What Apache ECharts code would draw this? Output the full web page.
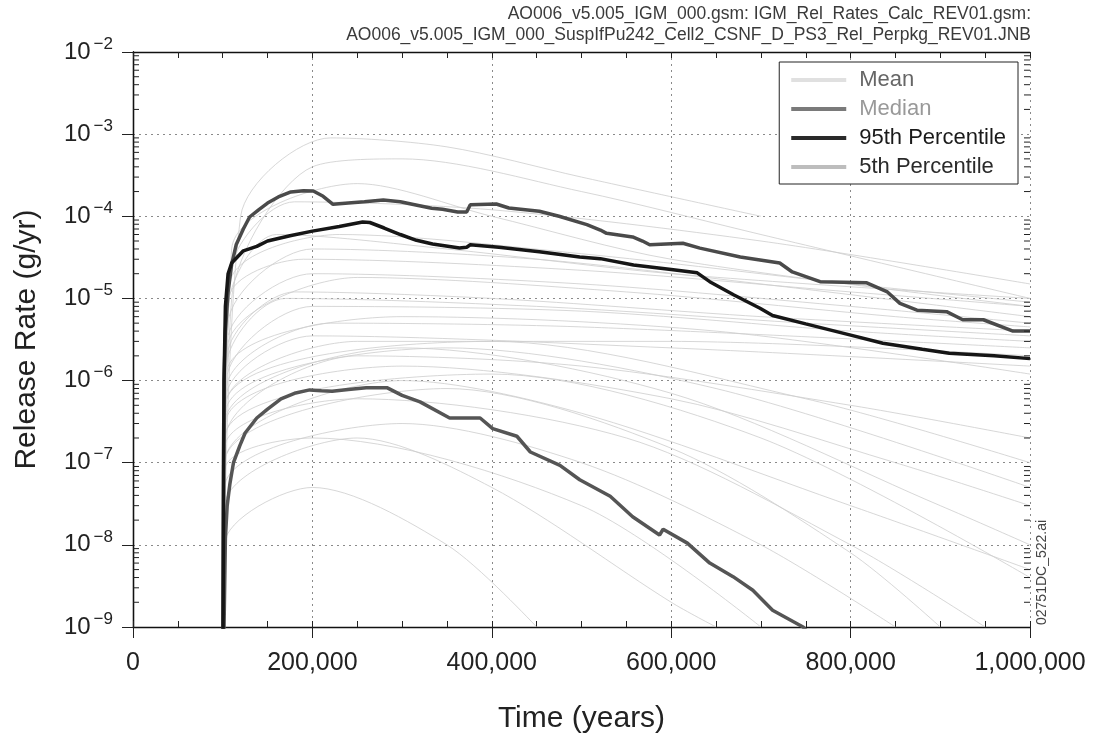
<!DOCTYPE html>
<html><head><meta charset="utf-8">
<script src="https://cdn.jsdelivr.net/npm/echarts@6/dist/echarts.min.js"></script>
<style>html,body{margin:0;padding:0;background:#fff}#c{width:1093px;height:733px}</style>
</head><body><div id="c"></div>
<script>
// ---- data (time in years, release rate in g/yr) ----
const meanRate = [[100000,1e-10],[100800,1e-7],[101500,1e-6],[103000,4e-6],[106000,1.2e-5],[110000,2.6e-5],[115000,4.5e-5],[123000,7e-5],[130000,9.8e-5],[140000,1.2e-4],[150000,1.45e-4],[162000,1.72e-4],[176000,1.98e-4],[190000,2.05e-4],[201000,2.03e-4],[212000,1.75e-4],[223000,1.4e-4],[240000,1.45e-4],[258000,1.5e-4],[279000,1.58e-4],[298000,1.5e-4],[314000,1.38e-4],[333000,1.25e-4],[345000,1.22e-4],[362000,1.13e-4],[372000,1.13e-4],[376000,1.38e-4],[405000,1.41e-4],[419000,1.26e-4],[453000,1.15e-4],[475000,1.0e-4],[506000,7.9e-5],[521000,6.8e-5],[528000,6.2e-5],[557000,5.6e-5],[568000,5.0e-5],[576000,4.5e-5],[613000,4.7e-5],[632000,4.1e-5],[677000,3.2e-5],[721000,2.7e-5],[735000,2.1e-5],[766000,1.6e-5],[818000,1.55e-5],[841000,1.2e-5],[855000,8.7e-6],[874000,7.2e-6],[907000,6.9e-6],[925000,5.5e-6],[948000,5.5e-6],[981000,4.0e-6],[1000000,4.0e-6]];
const p95Rate = [[100000,1e-10],[100800,1e-8],[101500,1e-6],[103000,8e-6],[106000,2e-5],[110000,2.7e-5],[114000,3e-5],[123000,3.8e-5],[138000,4.3e-5],[150000,5e-5],[175000,5.8e-5],[200000,6.6e-5],[230000,7.5e-5],[256000,8.5e-5],[264000,8.4e-5],[280000,7.2e-5],[298000,6e-5],[316000,5.1e-5],[334000,4.6e-5],[364000,4.1e-5],[372000,4.2e-5],[376000,4.5e-5],[408000,4.2e-5],[453000,3.7e-5],[498000,3.2e-5],[521000,3.05e-5],[558000,2.55e-5],[600000,2.25e-5],[629000,2.05e-5],[643000,1.6e-5],[670000,1.1e-5],[699000,7.6e-6],[713000,6.2e-6],[750000,4.9e-6],[799000,3.6e-6],[836000,2.85e-6],[880000,2.4e-6],[910000,2.15e-6],[960000,2.0e-6],[1000000,1.85e-6]];
const medianRate = [[100000,1e-10],[101500,1e-9],[103000,1.2e-8],[105000,3e-8],[108000,5.5e-8],[112000,1e-7],[119000,1.6e-7],[125000,2.3e-7],[138000,3.5e-7],[150000,4.5e-7],[165000,6e-7],[180000,7e-7],[197000,7.7e-7],[210000,7.5e-7],[222000,7.4e-7],[240000,7.8e-7],[260000,8.2e-7],[283000,8.2e-7],[300000,6.6e-7],[320000,5.5e-7],[353000,3.5e-7],[387000,3.5e-7],[401000,2.6e-7],[428000,2.1e-7],[443000,1.35e-7],[476000,9.3e-8],[498000,6.2e-8],[532000,3.9e-8],[557000,2.2e-8],[587000,1.32e-8],[591000,1.55e-8],[618000,1.05e-8],[643000,6e-9],[669000,4.1e-9],[691000,2.8e-9],[713000,1.6e-9],[747000,1e-9],[760000,7e-10]];
const p5Rate = []; // below 1e-9 for the whole period

// faint individual realizations (horsetail background)
const r01 = [[100000,1e-10],[110000,1e-5],[200000,4e-4],[300000,5e-4],[500000,2e-4],[700000,6e-5],[1000000,1e-5]];
const r02 = [[100000,1e-10],[108000,2e-5],[180000,1.5e-4],[400000,1.2e-4],[700000,5e-5],[1000000,1.5e-5]];
const r03 = [[100000,1e-10],[106000,5e-6],[200000,4e-5],[450000,3e-5],[700000,1.5e-5],[1000000,6e-6]];
const r04 = [[100000,1e-10],[105000,3e-6],[200000,2e-5],[500000,1.5e-5],[800000,8e-6],[1000000,5e-6]];
const r05 = [[100000,1e-10],[104000,1e-6],[200000,8e-6],[500000,7e-6],[800000,4e-6],[1000000,3e-6]];
const r06 = [[100000,1e-10],[104000,8e-7],[220000,5e-6],[500000,4.5e-6],[1000000,2.5e-6]];
const r07 = [[100000,1e-10],[103000,5e-7],[250000,3e-6],[600000,3e-6],[1000000,2e-6]];
const r08 = [[100000,1e-10],[105000,2e-6],[180000,1.2e-5],[400000,1e-5],[700000,6e-6],[1000000,4e-6]];
const r09 = [[100000,1e-10],[103000,2e-7],[250000,2e-6],[500000,1.5e-6],[800000,5e-7],[1000000,2e-7]];
const r10 = [[100000,1e-10],[102000,1e-7],[300000,1e-6],[500000,4e-7],[800000,3e-8],[1000000,5e-9]];
const r11 = [[100000,1e-10],[102000,5e-8],[300000,3e-7],[500000,1e-7],[700000,1e-8],[850000,1e-9]];
const r12 = [[100000,1e-10],[102000,3e-8],[250000,2e-7],[400000,5e-8],[600000,2e-9],[650000,1e-9]];
const r13 = [[100000,1e-10],[101500,1e-8],[200000,5e-8],[350000,1e-8],[450000,1e-9]];
const r14 = [[100000,1e-10],[103000,4e-7],[350000,2.5e-6],[650000,8e-7],[1000000,5e-8]];
const r15 = [[100000,1e-10],[102000,2e-7],[400000,1.2e-6],[700000,2e-7],[1000000,4e-9]];
const r16 = [[100000,1e-10],[110000,4e-5],[250000,2.5e-4],[400000,1e-4],[600000,3e-5],[1000000,8e-6]];
const r17 = [[100000,1e-10],[106000,8e-6],[160000,6e-5],[350000,4e-5],[600000,2e-5],[1000000,1e-5]];
const r18 = [[100000,1e-10],[120000,1e-4],[220000,9e-4],[350000,7e-4],[500000,3e-4],[700000,1e-4]];
const r19 = [[100000,1e-10],[102000,3e-7],[300000,2.5e-6],[600000,7e-7],[900000,3e-8],[1000000,1e-8]];
const r20 = [[100000,1e-10],[102000,1e-7],[350000,8e-7],[600000,1.5e-7],[800000,8e-9],[900000,1e-9]];
const r21 = [[100000,1e-10],[104000,1.5e-6],[170000,1e-5],[450000,8e-6],[750000,5e-6],[1000000,3.5e-6]];
const r22 = [[100000,1e-10],[105000,2.5e-6],[250000,1.8e-5],[550000,1.2e-5],[850000,6e-6],[1000000,4.5e-6]];
const r23 = [[100000,1e-10],[103000,6e-7],[200000,3.5e-6],[600000,2.5e-6],[1000000,1.5e-6]];
const r24 = [[100000,1e-10],[107000,1e-5],[190000,3e-5],[500000,2.2e-5],[800000,1.2e-5],[1000000,8e-6]];
const r25 = [[100000,1e-10],[103000,3e-7],[300000,1.5e-6],[600000,6e-7],[850000,1e-7],[1000000,3e-8]];
const r26 = [[100000,1e-10],[102000,1.5e-7],[250000,6e-7],[550000,2e-7],[800000,1e-8],[950000,1e-9]];
const r27 = [[100000,1e-10],[104000,1.2e-6],[300000,6e-6],[650000,4e-6],[1000000,1.2e-6]];
const r28 = [[100000,1e-10],[102000,8e-8],[200000,2e-7],[500000,3e-8],[700000,1e-9]];
const r29 = [[100000,1e-10],[108000,1.5e-5],[230000,6e-5],[500000,3.5e-5],[800000,1.5e-5],[1000000,9e-6]];
const r30 = [[100000,1e-10],[103000,5e-7],[400000,3e-6],[750000,6e-7],[1000000,1e-7]];
const realizations = [r01,r02,r03,r04,r05,r06,r07,r08,r09,r10,r11,r12,r13,r14,r15,r16,r17,r18,r19,r20,r21,r22,r23,r24,r25,r26,r27,r28,r29,r30];

// axis ticks
const xTickLabels = ['0','200,000','400,000','600,000','800,000','1,000,000'];
const yDecades = [1e-9,1e-8,1e-7,1e-6,1e-5,1e-4,1e-3];
const yMinorMultipliers = [2,3,4,5,6,7,8,9];

const FONT = '"Liberation Sans", Arial, sans-serif';
const minorTicks = [];
yDecades.forEach(d => yMinorMultipliers.forEach(m => minorTicks.push([0, d * m])));

const chart = echarts.init(document.getElementById('c'), null, {renderer: 'canvas'});

const realizationSeries = realizations.map((r, i) => ({
  name: 'Realization ' + (i + 1), type: 'line', data: r, symbol: 'none', silent: true,
  lineStyle: {color: '#cdcdcd', width: 1, opacity: 0.8}, smooth: 0.3, z: 1, animation: false
}));

const axisLineStyle = {color: '#111', width: 1.3};

chart.setOption({
  animation: false,
  backgroundColor: '#fff',
  grid: {left: 133, right: 63, top: 52, bottom: 106, containLabel: false, outerBoundsMode: 'none'},
  legend: {
    orient: 'vertical', right: 75, top: 62,
    padding: [7, 12, 6, 12], itemWidth: 55, itemHeight: 4, itemGap: 7,
    borderColor: '#222', borderWidth: 1, backgroundColor: '#fff',
    textStyle: {fontSize: 22, lineHeight: 22, fontFamily: FONT, padding: [0, 0, 0, 8]},
    selectedMode: false,
    data: [
      {name: 'Mean', icon: 'rect', itemStyle: {color: '#e0e0e0'}, textStyle: {color: '#666'}},
      {name: 'Median', icon: 'rect', itemStyle: {color: '#7a7a7a'}, textStyle: {color: '#999'}},
      {name: '95th Percentile', icon: 'rect', itemStyle: {color: '#2a2a2a'}, textStyle: {color: '#1a1a1a'}},
      {name: '5th Percentile', icon: 'rect', itemStyle: {color: '#bdbdbd'}, textStyle: {color: '#2a2a2a'}}
    ]
  },
  xAxis: [
    {type: 'value', min: 0, max: 1000000, interval: 200000, position: 'bottom',
     axisLine: {show: true, lineStyle: axisLineStyle},
     axisTick: {show: true, inside: false, length: 11, lineStyle: {color: '#222'}},
     axisLabel: {margin: 24, fontSize: 25, color: '#222', fontFamily: FONT,
       formatter: v => xTickLabels[Math.round(v / 200000)]},
     splitLine: {show: true, lineStyle: {color: '#8a8a8a', type: [2, 4], width: 1}},
     name: 'Time (years)', nameLocation: 'middle', nameGap: 77,
     nameTextStyle: {fontSize: 30, color: '#222', fontFamily: FONT}},
    {type: 'value', min: 0, max: 1000000, interval: 50000, position: 'bottom',
     axisLine: {show: false}, axisTick: {show: true, inside: true, length: 6, lineStyle: {color: '#222'}},
     axisLabel: {show: false}, splitLine: {show: false}},
    {type: 'value', min: 0, max: 1000000, interval: 50000, position: 'top',
     axisLine: {show: true, lineStyle: axisLineStyle}, axisTick: {show: true, inside: true, length: 6, lineStyle: {color: '#222'}},
     axisLabel: {show: false}, splitLine: {show: false}}
  ],
  yAxis: [
    {type: 'log', logBase: 10, min: 1e-9, max: 1e-2, position: 'left',
     axisLine: {show: true, lineStyle: axisLineStyle},
     axisTick: {show: true, inside: false, length: 11, lineStyle: {color: '#222'}},
     axisLabel: {margin: 20, color: '#222', fontFamily: FONT,
       formatter: v => '{b|10}{s|\u2212' + Math.abs(Math.round(Math.log10(v))) + '}',
       rich: {b: {fontSize: 24, fontFamily: FONT, color: '#222'},
              s: {fontSize: 17, fontFamily: FONT, color: '#222', padding: [0, 0, 16, 3]}}},
     splitLine: {show: true, lineStyle: {color: '#8a8a8a', type: [2, 4], width: 1}},
     name: 'Release Rate (g/yr)', nameLocation: 'middle', nameGap: 91,
     nameTextStyle: {fontSize: 30, color: '#222', fontFamily: FONT}},
    {type: 'log', logBase: 10, min: 1e-9, max: 1e-2, position: 'right',
     axisLine: {show: true, lineStyle: axisLineStyle},
     axisTick: {show: true, inside: true, length: 9, lineStyle: {color: '#222'}},
     axisLabel: {show: false}, splitLine: {show: false}}
  ],
  graphic: [
    {type: 'text', right: 62, top: 4,
     style: {text: 'AO006_v5.005_IGM_000.gsm: IGM_Rel_Rates_Calc_REV01.gsm:\nAO006_v5.005_IGM_000_SuspIfPu242_Cell2_CSNF_D_PS3_Rel_Perpkg_REV01.JNB',
       font: '17.5px ' + FONT, fill: '#3a3a3a', align: 'right', textAlign: 'right', lineHeight: 21}},
    {type: 'text', x: 1049, y: 625, rotation: Math.PI / 2,
     style: {text: '02751DC_522.ai', font: '14px ' + FONT, fill: '#444',
       align: 'left', textAlign: 'left', verticalAlign: 'bottom', textVerticalAlign: 'bottom'}}
  ],
  series: realizationSeries.concat([
    {name: '5th Percentile', type: 'line', data: p5Rate, symbol: 'none',
     lineStyle: {color: '#bdbdbd', width: 3}, z: 3},
    {name: 'Median', type: 'line', data: medianRate, symbol: 'none',
     lineStyle: {color: '#555', width: 3.5}, z: 4},
    {name: '95th Percentile', type: 'line', data: p95Rate, symbol: 'none',
     lineStyle: {color: '#161616', width: 3.5}, z: 5},
    {name: 'Mean', type: 'line', data: meanRate, symbol: 'none',
     lineStyle: {color: '#4a4a4a', width: 3.5}, z: 4},
    {name: 'minorTicks', type: 'custom', xAxisIndex: 0, yAxisIndex: 0, silent: true, clip: false, z: 6,
     data: minorTicks,
     renderItem: (params, api) => {
       const v = api.value(1);
       const pl = api.coord([0, v]);
       const pr = api.coord([1000000, v]);
       return {type: 'group', children: [
         {type: 'line', shape: {x1: pl[0], y1: pl[1], x2: pl[0] + 6, y2: pl[1]}, style: {stroke: '#222', lineWidth: 1}},
         {type: 'line', shape: {x1: pr[0] - 6, y1: pr[1], x2: pr[0], y2: pr[1]}, style: {stroke: '#222', lineWidth: 1}}
       ]};
     }}
  ])
});
</script>
</body></html>
